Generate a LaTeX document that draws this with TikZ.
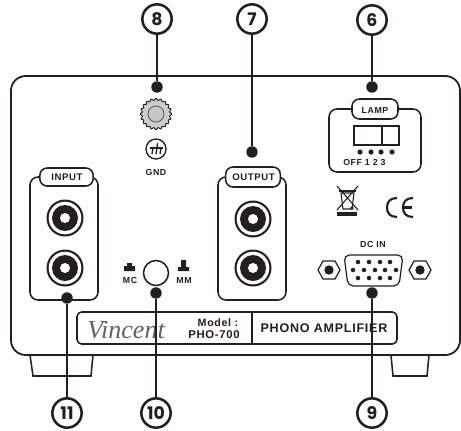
\documentclass[tikz,border=0pt]{standalone}
\usepackage{fontspec}
\setmainfont{Liberation Sans}
\newfontfamily\numfont{Poppins}
\newfontfamily\labfont[LetterSpace=6]{Liberation Sans}
\newfontfamily\scriptfnt{Liberation Serif}
\definecolor{ink}{HTML}{231F20}
\tikzset{
  numc/.style={circle,draw=ink,line width=1.9pt,fill=white,minimum size=22pt,inner sep=0pt,text=ink,font=\numfont\bfseries\fontsize{13}{13}\selectfont},
  dotn/.style={circle,fill=ink,minimum size=8.6pt,inner sep=0pt},
  lead/.style={draw=ink,line width=1.8pt},
  thin/.style={draw=ink,line width=1.15pt,rounded corners=6pt},
  tabbox/.style={draw=ink,line width=1.15pt,fill=white,rounded corners=5.5pt},
  lab/.style={text=ink,font=\labfont\bfseries\fontsize{7.2}{7.2}\selectfont,inner sep=0pt},
  small/.style={text=ink,font=\labfont\bfseries\fontsize{6.6}{6.6}\selectfont,inner sep=0pt},
  big/.style={text=ink,font=\labfont\bfseries\fontsize{9.4}{9.4}\selectfont,inner sep=0pt},
  pin/.style={circle,fill=ink,minimum size=3.4pt,inner sep=0pt}
}
\newcommand{\rca}[2]{%
  \fill[ink] (#1,#2) circle[radius=18.5];
  \fill[white] (#1,#2) circle[radius=16.3];
  \fill[ink] (#1,#2) circle[radius=13];
  \fill[white] (#1,#2) circle[radius=5];
}
\newcommand{\hexa}[2]{%
  \draw[ink,line width=.9pt,fill=white] (#1-11,#2) -- (#1-6,#2-9) -- (#1+6,#2-9) -- (#1+11,#2) -- (#1+6,#2+9) -- (#1-6,#2+9) -- cycle;
  \fill[ink] (#1,#2) circle[radius=4.7];
}
\begin{document}
\begin{tikzpicture}[x=.75pt,y=-.75pt]
\useasboundingbox (0,0) rectangle (461,430);
% feet
\draw[ink,line width=1.15pt] (30,355) -- (33,376) -- (91,376) -- (93,355);
\draw[ink,line width=1.15pt] (391,355) -- (393,376) -- (427,376) -- (429,355);
% chassis
\draw[ink,line width=1.35pt,rounded corners=11pt] (11,76) rectangle (460,355);
% input
\draw[thin] (30,177) rectangle (98,300);
\node[tabbox,minimum width=40pt,minimum height=13.5pt,inner sep=0pt] (inputtab) at (66.5,177) {};
\node[lab] (inputlab) at (67,177.5) {INPUT};
\rca{65}{218}\rca{65}{268}
% output
\draw[thin] (218,177) rectangle (286,300);
\node[tabbox,minimum width=41pt,minimum height=15pt,inner sep=0pt] (outputtab) at (253,177) {};
\node[lab] (outputlab) at (253.5,177.5) {OUTPUT};
\rca{253}{219}\rca{253}{268}
% lamp
\draw[thin] (329,109) rectangle (421,172);
\node[tabbox,minimum width=34.5pt,minimum height=15pt,inner sep=0pt] (lamptab) at (375,109) {};
\node[small] (lamplab) at (375,110) {LAMP};
\draw[ink,line width=1.15pt] (354,126) rectangle (399,145);
\draw[ink,line width=1.15pt] (382,126) -- (382,145);
\foreach \x in {360,371,381,392} \fill[ink] (\x,152) circle[radius=2.6];
\node[small,anchor=west] (lampnums) at (343,162) {OFF 1 2 3};
% knob
\draw[ink,line width=.7pt,fill=black!20] plot[domain=0:360,samples=217,smooth] ({156+(14.7+.9*cos(20*\x))*cos(\x)},{114+(14.7+.9*cos(20*\x))*sin(\x)}) -- cycle;
\draw[ink!75,line width=.6pt,fill=black!22] (156,114) circle[radius=8];
% ground symbol
\draw[ink,line width=1pt] (156,149) circle[radius=10];
\draw[ink,line width=1pt] (150,148) -- (163,148);
\draw[ink,line width=1pt] (157.5,143) -- (157,148) (153,148) -- (152,154) (157,148) -- (156,154) (161,148) -- (160,154);
\node[small] (gnd) at (156,172) {GND};
% weee
\draw[ink,line width=.8pt] (341,193) -- (343,209) -- (352,209) -- (354,193) -- cycle;
\draw[ink,line width=.9pt] (339,191) -- (356,191);
\draw[ink,line width=.8pt] (337,186) -- (358,210) (358,186) -- (337,210);
\fill[ink] (352,208) circle[radius=1.8];
\fill[ink] (337,212) rectangle (357,216);
% CE
\draw[ink,line width=1.6pt] (397,198) .. controls (390,198) and (387,202) .. (387,207.5) .. controls (387,213) and (390,217) .. (397,217);
\draw[ink,line width=1.6pt] (413,198) .. controls (406,198) and (403,202) .. (403,207.5) .. controls (403,213) and (406,217) .. (413,217);
\draw[ink,line width=1.6pt] (403,207.5) -- (412,207.5);
% MC / MM
\fill[ink] (124,271) -- (124,266) -- (127,266) -- (127,263) -- (132,263) -- (132,266) -- (135,266) -- (135,271) -- cycle;
\node[small] (mc) at (130,280) {MC};
\draw[ink,line width=1.15pt] (156,273) circle[radius=12.5];
\fill[ink] (178,271) -- (178,267) -- (181,267) -- (181,260) -- (186,260) -- (186,267) -- (189,267) -- (189,271) -- cycle;
\node[small] (mm) at (184,280) {MM};
% DC in
\node[small] (dcin) at (373,244) {DC IN};
\hexa{329}{270}\hexa{420}{270}
\draw[ink,line width=.9pt,rounded corners=4pt] (344,255) -- (403,255) -- (399,286) -- (348,286) -- cycle;
\foreach \x in {358,369,380,390} {\node[pin] at (\x,262) {}; \node[pin] at (\x,278) {};}
\foreach \x in {353,364,375,385,396} \node[pin] at (\x,270) {};
% nameplate
\draw[ink,line width=1.15pt,rounded corners=3.5pt] (77,312) rectangle (397,344);
\draw[ink,line width=1.15pt] (252,312) -- (252,344);
\node[text=black!62,inner sep=0pt,font=\scriptfnt\itshape\fontsize{19.5}{19.5}\selectfont] (vincent) at (126,330) {Vincent};
\node[lab,font=\labfont\bfseries\fontsize{8}{8}\selectfont] (model) at (218,323) {Model :};
\node[lab,font=\labfont\bfseries\fontsize{8.5}{8.5}\selectfont] (pho) at (214,335) {PHO-700};
\node[big] (phono) at (324,328) {PHONO AMPLIFIER};
% callouts
\node[numc] (n8) at (157,19) {8};
\node[numc] (n7) at (252,19) {7};
\node[numc] (n6) at (372,20) {6};
\node[numc] (n9) at (372,413) {9};
\node[numc] (n10) at (156,413) {10};
\node[numc] (n11) at (67,413) {11};
\node[dotn] (d8) at (157,87) {};
\node[dotn] (d7) at (252,152) {};
\node[dotn] (d6) at (372,87) {};
\node[dotn] (d9) at (372,293) {};
\node[dotn] (d10) at (156,293) {};
\node[dotn] (d11) at (67,298) {};
\foreach \a/\b in {n8/d8,n7/d7,n6/d6,n9/d9,n10/d10,n11/d11} \draw[lead] (\a) -- (\b);
\end{tikzpicture}
\end{document}
